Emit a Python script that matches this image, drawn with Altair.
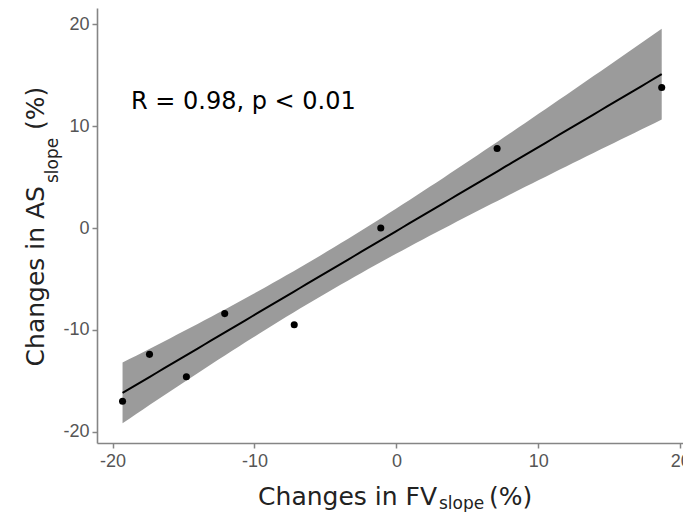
import altair as alt
import numpy as np
import pandas as pd

# Data
fv_change = [-19.3, -17.4, -14.8, -12.1, -7.2, -1.1, 7.1, 18.7]
as_change = [-17.0, -12.4, -14.6, -8.4, -9.5, 0.0, 7.8, 13.8]
x_ticks = [-20, -10, 0, 10, 20]
y_ticks = [-20, -10, 0, 10, 20]
annotation = "R = 0.98, p < 0.01"

pts = pd.DataFrame({"fv": fv_change, "as": as_change})

# Linear fit with 95% confidence band (as ggplot geom_smooth(method="lm"))
x = np.array(fv_change)
y = np.array(as_change)
n = len(x)
slope, intercept = np.polyfit(x, y, 1)
resid = y - (slope * x + intercept)
s = np.sqrt(np.sum(resid ** 2) / (n - 2))
sxx = np.sum((x - x.mean()) ** 2)
t_crit = 2.447  # t(0.975, df=6)
grid = np.linspace(x.min(), x.max(), 80)
fit = slope * grid + intercept
se = s * np.sqrt(1.0 / n + (grid - x.mean()) ** 2 / sxx)
band = pd.DataFrame({"fv": grid, "fit": fit, "lo": fit - t_crit * se, "hi": fit + t_crit * se})

xs = alt.Scale(domain=[-21.1, 20.2], nice=False, zero=False)
ys = alt.Scale(domain=[-21.1, 21.6], nice=False, zero=False)

lab = "datum.value + ''"
xaxis = alt.Axis(values=x_ticks, title=None, grid=False, labelFlush=False, labelExpr=lab, labelPadding=4)
yaxis = alt.Axis(values=y_ticks, title=None, grid=False, labelExpr=lab, labelPadding=3)

area = alt.Chart(band).mark_area(color="#9b9b9b", opacity=1).encode(
    x=alt.X("fv:Q", scale=xs, axis=xaxis),
    y=alt.Y("lo:Q", scale=ys, axis=yaxis),
    y2="hi:Q",
)
line = alt.Chart(band).mark_line(color="black", strokeWidth=2).encode(
    x=alt.X("fv:Q", scale=xs),
    y=alt.Y("fit:Q", scale=ys),
)
points = alt.Chart(pts).mark_circle(color="black", opacity=1, size=50).encode(
    x=alt.X("fv:Q", scale=xs),
    y=alt.Y("as:Q", scale=ys),
)

TF = "DejaVu Sans"
one = pd.DataFrame({"a": [0]})

def txt(text, x, y, size, align="left", angle=0, color="#1a1a1a"):
    return alt.Chart(one).mark_text(
        text=text, font=TF, fontSize=size, align=align, baseline="alphabetic",
        angle=angle, color=color,
    ).encode(x=alt.value(x), y=alt.value(y))

ann = txt(annotation, 34, 101, 24, color="black")

# x-axis title with subscript
xt1 = txt("Changes in FV", 340, 497, 25, align="right", color="#222222")
xt2 = txt("slope", 342, 501, 17, color="#222222")
xt3 = txt("(%)", 392, 497, 25, color="#222222")

# y-axis title with subscript (rotated)
yt1 = txt("Changes in AS", -53, 178, 25, align="right", angle=270, color="#222222")
yt2 = txt("slope", -39, 175, 17, angle=270, color="#222222")
yt3 = txt("(%)", -53, 122, 25, angle=270, color="#222222")

chart = alt.layer(area, line, points, ann, xt1, xt2, xt3, yt1, yt2, yt3).properties(
    width=586,
    height=435,
    autosize=alt.AutoSizeParams(type="none"),
    padding={"left": 89, "top": 0, "right": 0, "bottom": 69},
).configure_view(stroke=None).configure_axis(
    domainColor="#858585",
    domainWidth=1.6,
    tickColor="#858585",
    tickWidth=1.5,
    tickSize=5,
    labelColor="#555555",
    labelFont="Liberation Sans",
    labelFontSize=18,
)

chart.save("out.html", embed_options={"renderer": "svg", "actions": False})
